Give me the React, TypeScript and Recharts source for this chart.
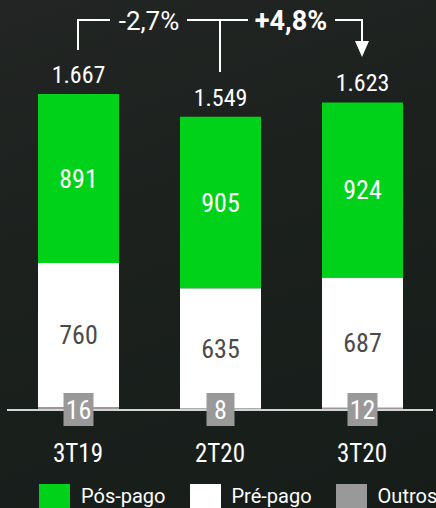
import React from 'react';
import { BarChart, Bar, XAxis, YAxis, LabelList, ReferenceLine } from 'recharts';

const categories = ['3T19', '2T20', '3T20'];
const posPago = [891, 905, 924];
const prePago = [760, 635, 687];
const outros = [16, 8, 12];
const totals = [1667, 1549, 1623];
const changes = ['-2,7%', '+4,8%'];

const GREEN = '#00d119';
const GRAY = '#999999';
const FONT = '"Roboto Condensed", Roboto, sans-serif';
const Y_MAX = 2058;

const data = categories.map((c, i) => ({
  name: c,
  pos: posPago[i],
  pre: prePago[i],
  outros: outros[i],
  total: totals[i],
}));

// 1667 -> "1.667"
const fmt = (n: number) => String(n).replace(/\B(?=(\d{3})+(?!\d))/g, '.');

const CategoryTick = (props: any) => {
  const { x, y, payload } = props;
  return (
    <text x={x} y={y + 52} textAnchor="middle" fill="#fff" fontSize={25} fontFamily={FONT}>
      {payload.value}
    </text>
  );
};

const OutrosBox = (props: any) => {
  const { x, y, width, height, value } = props;
  const cx = x + width / 2;
  const base = y + height;
  const w = String(value).length > 1 ? 30 : 28;
  return (
    <g>
      <rect x={cx - w / 2} y={base - 17} width={w} height={33} fill={GRAY} />
      <text x={cx} y={base + 9} textAnchor="middle" fill="#fff" fontSize={26} fontFamily={FONT}>
        {value}
      </text>
    </g>
  );
};

const TotalLabel = (props: any) => {
  const { x, y, width, value } = props;
  return (
    <text x={x + width / 2} y={y - 11} textAnchor="middle" fill="#fff" fontSize={24} fontFamily={FONT}>
      {fmt(value)}
    </text>
  );
};

// bracket over the bars: x1 = first category centre, x2 = last category centre
const Bracket = (props: any) => {
  const { x1, x2, y1 } = props;
  const y = y1;
  const xm = (x1 + x2) / 2;
  const cL = (x1 + xm) / 2;
  const cR = (xm + x2) / 2;
  const s = { stroke: '#fff', strokeWidth: 2, fill: 'none' };
  return (
    <g>
      <polyline points={`${x1},${y + 30} ${x1},${y} ${cL - 39},${y}`} {...s} />
      <line x1={cL + 38} y1={y} x2={cR - 43} y2={y} {...s} />
      <line x1={xm} y1={y} x2={xm} y2={y + 52} {...s} />
      <polyline points={`${cR + 44},${y} ${x2},${y} ${x2},${y + 22}`} {...s} />
      <polygon points={`${x2 - 7},${y + 21} ${x2 + 7},${y + 21} ${x2},${y + 37}`} fill="#fff" />
      <text x={cL} y={y + 9.5} textAnchor="middle" fill="#fff" fontSize={26} fontFamily="Roboto">{changes[0]}</text>
      <text x={cR} y={y + 9.5} textAnchor="middle" fill="#fff" fontSize={27} fontWeight="bold" fontFamily="Roboto">{changes[1]}</text>
    </g>
  );
};

const legendItems = [
  { label: 'Pós-pago', color: GREEN },
  { label: 'Pré-pago', color: '#ffffff' },
  { label: 'Outros', color: GRAY },
];

const ChartLegend = () => (
  <div style={{ position: 'absolute', top: 484, left: 39, display: 'flex', alignItems: 'flex-start', fontFamily: 'Roboto' }}>
    {legendItems.map((it) => (
      <div key={it.label} style={{ display: 'flex', alignItems: 'flex-start', marginRight: 24 }}>
        <div style={{ width: 31, height: 31, background: it.color, marginRight: 11 }} />
        <span style={{ color: '#fff', fontSize: 20, lineHeight: '20px', marginTop: 2, whiteSpace: 'nowrap' }}>
          {it.label}
        </span>
      </div>
    ))}
  </div>
);

export default function App() {
  return (
    <div
      style={{
        position: 'absolute',
        left: 0,
        top: 0,
        width: 436,
        height: 508,
        overflow: 'hidden',
        background: 'linear-gradient(160deg, #222523 0%, #1b201d 50%, #161d19 100%)',
      }}
    >
      <BarChart width={436} height={508} data={data} margin={{ top: 20, right: 3, left: 7, bottom: 68 }} barSize={81}>
        <XAxis
          dataKey="name"
          height={30}
          tickLine={false}
          tickSize={0}
          tickMargin={0}
          axisLine={{ stroke: '#d4d4d4', strokeWidth: 2 }}
          tick={<CategoryTick />}
          interval={0}
        />
        <YAxis type="number" domain={[0, Y_MAX]} allowDataOverflow hide />
        <Bar dataKey="outros" stackId="a" fill={GRAY} isAnimationActive={false}>
          <LabelList dataKey="outros" content={<OutrosBox />} />
        </Bar>
        <Bar dataKey="pre" stackId="a" fill="#ffffff" isAnimationActive={false}>
          <LabelList dataKey="pre" position="center" fill="#4a4a4a" fontSize={26} fontFamily={FONT} />
        </Bar>
        <Bar dataKey="pos" stackId="a" fill={GREEN} isAnimationActive={false}>
          <LabelList dataKey="pos" position="center" fill="#ffffff" fontSize={26} fontFamily={FONT} />
          <LabelList dataKey="total" content={<TotalLabel />} />
        </Bar>
        <ReferenceLine
          segment={[{ x: categories[0], y: Y_MAX }, { x: categories[2], y: Y_MAX }]}
          ifOverflow="visible"
          shape={<Bracket />}
        />
      </BarChart>
      <ChartLegend />
    </div>
  );
}
